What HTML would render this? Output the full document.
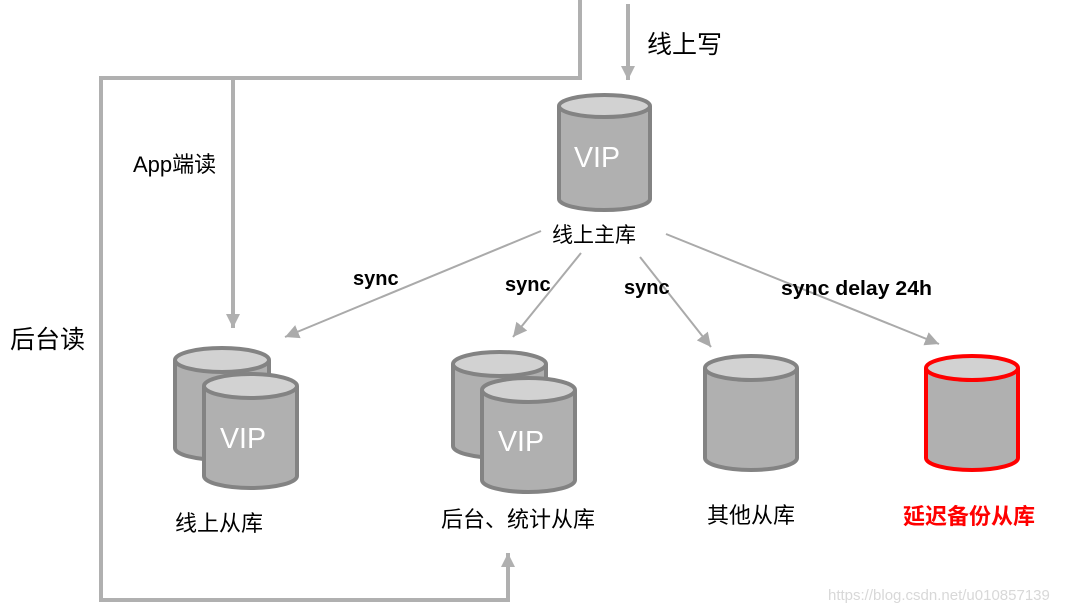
<!DOCTYPE html>
<html><head><meta charset="utf-8"><style>
html,body{margin:0;padding:0;background:#fff;}
svg{display:block;}
text{font-family:"Liberation Sans","Noto Sans CJK SC",sans-serif;}
</style></head><body>
<svg width="1069" height="613" viewBox="0 0 1069 613" xmlns="http://www.w3.org/2000/svg">
<defs>
<marker id="b" markerWidth="16" markerHeight="16" refX="14" refY="7" orient="auto" markerUnits="userSpaceOnUse">
<path d="M0,0 L14,7 L0,14 z" fill="#aaa"/></marker>
<marker id="c" markerWidth="16" markerHeight="14" refX="14" refY="7" orient="auto" markerUnits="userSpaceOnUse">
<path d="M0,0 L14,7 L0,14 z" fill="#b0b0b0"/></marker>
</defs>
<polyline points="580,0 580,78 101,78 101,600 508,600 508,553" fill="none" stroke="#b0b0b0" stroke-width="4" marker-end="url(#c)"/>
<polyline points="233,80 233,328" fill="none" stroke="#b0b0b0" stroke-width="4" marker-end="url(#c)"/>
<line x1="628" y1="4" x2="628" y2="80" stroke="#b0b0b0" stroke-width="4" marker-end="url(#c)"/>

<g stroke="#aaa" stroke-width="2" fill="none">
<line x1="541" y1="231" x2="285" y2="337" marker-end="url(#b)"/>
<line x1="581" y1="253" x2="513" y2="337" marker-end="url(#b)"/>
<line x1="640" y1="257" x2="711" y2="347" marker-end="url(#b)"/>
<line x1="666" y1="234" x2="939" y2="344" marker-end="url(#b)"/>
</g>

<g stroke="#838383" stroke-width="4">
<path d="M559,106 L559,199 A45.5,11 0 0 0 650,199 L650,106" fill="#b0b0b0"/>
<ellipse cx="604.5" cy="106" rx="45.5" ry="11" fill="#d2d2d2"/>
<path d="M175,360 L175,448 A47,12 0 0 0 269,448 L269,360" fill="#b0b0b0"/>
<ellipse cx="222" cy="360" rx="47" ry="12" fill="#d2d2d2"/>
<path d="M204,386 L204,476 A46.5,12 0 0 0 297,476 L297,386" fill="#b0b0b0"/>
<ellipse cx="250.5" cy="386" rx="46.5" ry="12" fill="#d2d2d2"/>
<path d="M453,364 L453,446 A46.5,12 0 0 0 546,446 L546,364" fill="#b0b0b0"/>
<ellipse cx="499.5" cy="364" rx="46.5" ry="12" fill="#d2d2d2"/>
<path d="M482,390 L482,480 A46.5,12 0 0 0 575,480 L575,390" fill="#b0b0b0"/>
<ellipse cx="528.5" cy="390" rx="46.5" ry="12" fill="#d2d2d2"/>
<path d="M705,368 L705,458 A46,12 0 0 0 797,458 L797,368" fill="#b0b0b0"/>
<ellipse cx="751" cy="368" rx="46" ry="12" fill="#d2d2d2"/>
</g>
<g stroke="#ff0000" stroke-width="4">
<path d="M926,368 L926,458 A46,12 0 0 0 1018,458 L1018,368" fill="#b0b0b0"/>
<ellipse cx="972" cy="368" rx="46" ry="12" fill="#d2d2d2"/>
</g>

<g fill="#fff" font-size="29">
<text x="574" y="167" textLength="46" lengthAdjust="spacingAndGlyphs">VIP</text>
<text x="220" y="448" textLength="46" lengthAdjust="spacingAndGlyphs">VIP</text>
<text x="498" y="451" textLength="46" lengthAdjust="spacingAndGlyphs">VIP</text>
</g>

<g fill="#000">
<text x="647" y="53" font-size="25">线上写</text>
<text x="133" y="172" font-size="22">App端读</text>
<text x="10" y="348" font-size="25">后台读</text>
<text x="552" y="242" font-size="21">线上主库</text>
<g font-size="20" font-weight="bold">
<text x="353" y="285">sync</text>
<text x="505" y="291">sync</text>
<text x="624" y="294">sync</text>
<text x="781" y="295" textLength="151" lengthAdjust="spacingAndGlyphs">sync delay 24h</text>
</g>
<g font-size="22">
<text x="175" y="531">线上从库</text>
<text x="441" y="527">后台、统计从库</text>
<text x="707" y="523">其他从库</text>
</g>
<text x="903" y="524" font-size="22" font-weight="bold" fill="#ff0000">延迟备份从库</text>
</g>
<text x="828" y="600" font-size="15" fill="#d8d8d8">https://blog.csdn.net/u010857139</text>
</svg>
</body></html>
